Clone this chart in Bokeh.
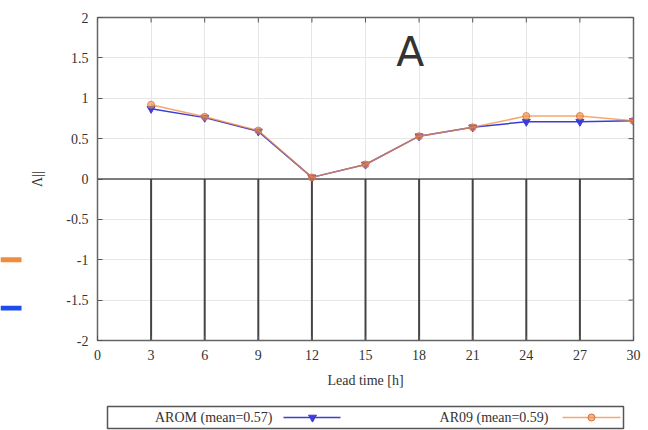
from bokeh.plotting import figure
from bokeh.layouts import column, row
from bokeh.models import Range1d, FixedTicker, Label
from bokeh.embed import file_html
from bokeh.resources import INLINE
from bokeh.core.properties import value

# Forecast scores per lead time
lead_time = [3, 6, 9, 12, 15, 18, 21, 24, 27, 30]
arom = [0.87, 0.76, 0.59, 0.02, 0.18, 0.53, 0.64, 0.71, 0.71, 0.72]
ar09 = [0.92, 0.77, 0.60, 0.02, 0.18, 0.53, 0.64, 0.78, 0.78, 0.72]
impulse_x = [3, 6, 9, 12, 15, 18, 21, 24, 27]
impulse_top = 0
impulse_bottom = -2

x_ticks = [0, 3, 6, 9, 12, 15, 18, 21, 24, 27, 30]
y_ticks = [-2, -1.5, -1, -0.5, 0, 0.5, 1, 1.5, 2]
y_tick_labels = ["-2", "-1.5", "-1", "-0.5", "0", "0.5", "1", "1.5", "2"]

series_names = ["AROM (mean=0.57)", "AR09 (mean=0.59)"]

BLUE = "#3c3cd8"
ORANGE = "#f08c3c"
SERIF = "Liberation Serif"
TXT = "#333333"
TICK = "#555555"

x_min, x_max = 0, 30
y_min, y_max = -2, 2

p = figure(width=626, height=400, x_range=Range1d(x_min, x_max), y_range=Range1d(y_min, y_max),
           output_backend="svg", toolbar_location=None,
           min_border_left=75, min_border_right=15, min_border_top=17,
           min_border_bottom=60)
p.background_fill_color = "white"
p.border_fill_color = "white"
p.outline_line_color = "#666666"
p.outline_line_width = 1.5

p.xgrid.ticker = FixedTicker(ticks=x_ticks)
p.ygrid.ticker = FixedTicker(ticks=y_ticks)
p.grid.grid_line_color = "#e6e6e6"
p.grid.grid_line_width = 1

for ax in p.xaxis:
    ax.ticker = FixedTicker(ticks=x_ticks)
    ax.axis_label = "Lead time [h]"
    ax.axis_label_standoff = 10
for ax in p.yaxis:
    ax.ticker = FixedTicker(ticks=y_ticks)
    ax.major_label_overrides = {t: s for t, s in zip(y_ticks, y_tick_labels)}
    ax.axis_label = "\u039b||"
    ax.axis_label_standoff = 18

for ax in list(p.xaxis) + list(p.yaxis):
    ax.axis_line_color = None
    ax.major_tick_in = 5
    ax.major_tick_out = 0
    ax.major_tick_line_color = TICK
    ax.minor_tick_line_color = None
    ax.major_label_text_font = SERIF
    ax.major_label_text_font_size = "14px"
    ax.major_label_text_color = TXT
    ax.major_label_standoff = 9
    ax.axis_label_text_font = SERIF
    ax.axis_label_text_font_size = "14px"
    ax.axis_label_text_font_style = "normal"
    ax.axis_label_text_color = TXT

# mirrored tick marks on the top and right edges (half of each dash is clipped by the frame)
p.scatter(x=x_ticks, y=[y_max] * len(x_ticks), marker="dash", angle=1.5708, size=10,
          line_color=TICK, line_width=1)
p.scatter(x=[x_max] * len(y_ticks), y=y_ticks, marker="dash", size=10,
          line_color=TICK, line_width=1)

# zero line and impulses
p.line(x=[x_min, x_max], y=[0, 0], line_color="#555555", line_width=1.5)
p.segment(x0=impulse_x, y0=[impulse_top] * len(impulse_x),
          x1=impulse_x, y1=[impulse_bottom] * len(impulse_x),
          line_color="#444444", line_width=2)

# series
p.line(lead_time, arom, line_color=BLUE, line_width=1.5)
p.scatter(lead_time, arom, marker="inverted_triangle", size=8,
          fill_color=BLUE, line_color=BLUE)
p.line(lead_time, ar09, line_color=ORANGE, line_width=1.5, line_alpha=0.75)
p.scatter(lead_time, ar09, marker="circle", size=7,
          fill_color=ORANGE, line_color="#d9703a", fill_alpha=0.6, line_alpha=0.8)

p.add_layout(Label(x=17.5, y=1.57, text="A", text_align="center",
                   text_baseline="alphabetic", text_font="DejaVu Sans",
                   text_font_size="41px", text_color="#333333"))

# narrow strip with coloured markers on the left
strip = figure(width=22, height=400, x_range=Range1d(0, 22), y_range=Range1d(400, 0),
               output_backend="svg", toolbar_location=None, min_border=0)
strip.axis.visible = False
strip.grid.visible = False
strip.outline_line_color = None
strip.quad(left=[0, 0], right=[21, 21], top=[297, 357], bottom=[303, 363],
           fill_color=[ORANGE, "#1a4cf0"], line_color=None)

# legend panel
leg = figure(width=648, height=30, x_range=Range1d(0, 648), y_range=Range1d(30, 0),
             output_backend="svg", toolbar_location=None, min_border=0)
leg.axis.visible = False
leg.grid.visible = False
leg.outline_line_color = None
leg.quad(left=[107], right=[623], top=[6], bottom=[28], fill_color=None,
         line_color="#555555", line_width=1.5)
leg.text(x=[272, 548], y=[17, 17], text=series_names, text_align="right",
         text_baseline="middle", text_font=value(SERIF), text_font_size="14px",
         text_color=TXT)
leg.segment(x0=[283], y0=[17], x1=[340], y1=[17], line_color=BLUE, line_width=1.5)
leg.scatter([312], [17], marker="inverted_triangle", size=8, fill_color=BLUE, line_color=BLUE)
leg.segment(x0=[562], y0=[17], x1=[620], y1=[17], line_color=ORANGE, line_width=1.5, line_alpha=0.75)
leg.scatter([591], [17], marker="circle", size=7, fill_color=ORANGE, line_color="#d9703a",
            fill_alpha=0.6)

layout = column(row(strip, p, spacing=0), leg, spacing=0)
open("out.html", "w").write(file_html(layout, INLINE))
